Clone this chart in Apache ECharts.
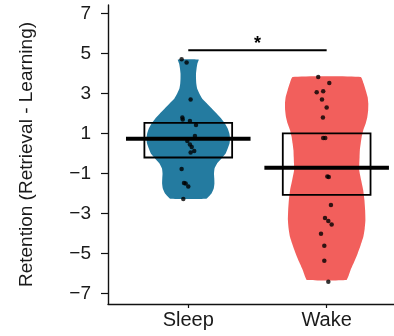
<!DOCTYPE html>
<html>
<head>
<meta charset="utf-8">
<script src="https://cdn.jsdelivr.net/npm/echarts@6/dist/echarts.min.js"></script>
<style>
html,body{margin:0;padding:0;background:#fff;}
#chart{width:394px;height:336px;}
</style>
</head>
<body>
<div id="chart"></div>
<script>
// ---- data ----
const categories = ['Sleep', 'Wake'];
const yTicks = [-7, -5, -3, -1, 1, 3, 5, 7];
const yTitle = 'Retention (Retrieval - Learning)';

const sleepValues = [4.72, 4.55, 2.7, 1.8, 1.7, 1.62, 1.42, 0.88, 0.62, 0.45, 0.33, 0.12, 0.05, -0.78, -1.47, -1.5, -1.65, -2.28];
const sleepJitter = [-0.048, -0.012, 0.017, -0.043, -0.04, 0.012, 0.056, 0.048, -0.007, 0.012, 0.025, 0.043, 0.017, -0.048, -0.031, -0.019, 0.0, -0.036];
const wakeValues = [3.83, 3.53, 3.12, 3.07, 2.7, 2.3, 1.8, 0.77, 0.77, -1.15, -1.18, -2.58, -3.23, -3.38, -3.55, -4.02, -4.62, -5.37, -6.42];
const wakeJitter = [-0.061, 0.019, -0.025, -0.072, -0.034, 0.0, -0.027, -0.025, -0.01, 0.005, 0.015, 0.031, -0.012, 0.012, 0.036, -0.041, -0.017, -0.017, 0.012];

const means = [0.74, -0.71];
const ciLow = [-0.2, -2.07];
const ciHigh = [1.53, 1.01];

// violin density profiles: y level and half width (x units)
const sleepViolinY = [4.7, 4.5, 4.25, 4.0, 3.75, 3.5, 3.25, 3.0, 2.75, 2.5, 2.25, 2.0, 1.75, 1.5, 1.25, 1.0, 0.75, 0.5, 0.25, 0.0, -0.25, -0.5, -0.75, -1.0, -1.25, -1.5, -1.75, -2.0, -2.15, -2.27];
const sleepViolinHalf = [0.075, 0.066, 0.06, 0.056, 0.056, 0.058, 0.064, 0.08, 0.1, 0.135, 0.17, 0.205, 0.238, 0.265, 0.285, 0.297, 0.302, 0.298, 0.285, 0.27, 0.24, 0.208, 0.19, 0.186, 0.188, 0.189, 0.184, 0.168, 0.148, 0.13];
const wakeViolinY = [3.83, 3.5, 3.17, 2.83, 2.5, 2.17, 1.83, 1.5, 1.17, 0.83, 0.5, 0.17, -0.17, -0.5, -0.83, -1.33, -1.83, -2.33, -2.83, -3.33, -3.75, -4.17, -4.58, -5.0, -5.42, -5.83, -6.1, -6.33];
const wakeViolinHalf = [0.246, 0.267, 0.282, 0.296, 0.301, 0.3, 0.294, 0.282, 0.265, 0.253, 0.246, 0.24, 0.238, 0.236, 0.235, 0.249, 0.264, 0.273, 0.278, 0.28, 0.275, 0.265, 0.246, 0.224, 0.199, 0.173, 0.159, 0.142];

const sigFrom = 1, sigTo = 2, sigY = 5.17, sigLabel = '*';

// ---- style ----
const colors = ['#247BA0', '#F25F5C'];
const font = 'Liberation Sans, Arial, Helvetica, sans-serif';
const textColor = '#1a1a1a';
const boxHalf = 0.317, meanHalf = 0.45;

const violinProfiles = [
  {y: sleepViolinY, h: sleepViolinHalf},
  {y: wakeViolinY, h: wakeViolinHalf}
];

const pointData = [];
sleepValues.forEach((v, i) => pointData.push([1 + sleepJitter[i], v]));
wakeValues.forEach((v, i) => pointData.push([2 + wakeJitter[i], v]));

const chart = echarts.init(document.getElementById('chart'), null, {renderer: 'canvas'});

const option = {
  animation: false,
  backgroundColor: '#ffffff',
  grid: {left: 108, top: 5, width: 301.7, height: 299, containLabel: false, outerBoundsMode: 'none'},
  xAxis: {
    type: 'value', min: 0.42, max: 2.6,
    splitLine: {show: false},
    axisLine: {show: true, onZero: false, lineStyle: {color: '#111', width: 1.4}},
    axisTick: {show: true, customValues: [1, 2], length: 4, lineStyle: {color: '#111', width: 1.2}},
    axisLabel: {
      customValues: [1, 2], margin: 6,
      formatter: v => categories[Math.round(v) - 1] || '',
      fontFamily: font, fontSize: 20, color: textColor
    }
  },
  yAxis: {
    type: 'value', min: -7.53, max: 7.43,
    name: yTitle, nameLocation: 'middle', nameGap: 72,
    nameTextStyle: {fontFamily: font, fontSize: 19, color: textColor},
    splitLine: {show: false},
    axisLine: {show: true, onZero: false, lineStyle: {color: '#111', width: 1.4}},
    axisTick: {show: true, customValues: yTicks, length: 7, lineStyle: {color: '#111', width: 1.2}},
    axisLabel: {
      customValues: yTicks, margin: 17,
      formatter: v => (v < 0 ? '\u2212' + Math.abs(v) : String(v)),
      fontFamily: font, fontSize: 19, color: textColor
    }
  },
  series: [
    {
      type: 'custom', name: 'violin', z: 1,
      data: [[0], [1]],
      renderItem: function (params, api) {
        const idx = api.value(0);
        const p = violinProfiles[idx];
        const pts = [];
        for (let i = 0; i < p.y.length; i++) pts.push(api.coord([idx + 1 + p.h[i], p.y[i]]));
        for (let i = p.y.length - 1; i >= 0; i--) pts.push(api.coord([idx + 1 - p.h[i], p.y[i]]));
        return {type: 'polygon', shape: {points: pts, smooth: 0.15}, style: {fill: colors[idx], stroke: null}};
      }
    },
    {
      type: 'scatter', name: 'points', z: 2,
      data: pointData, symbol: 'circle', symbolSize: 4.5,
      itemStyle: {color: '#000'}
    },
    {
      type: 'custom', name: 'summary', z: 3,
      data: [[0, means[0], ciLow[0], ciHigh[0]], [1, means[1], ciLow[1], ciHigh[1]]],
      renderItem: function (params, api) {
        const idx = api.value(0);
        const c = idx + 1;
        const tl = api.coord([c - boxHalf, api.value(3)]);
        const br = api.coord([c + boxHalf, api.value(2)]);
        const ml = api.coord([c - meanHalf, api.value(1)]);
        const mr = api.coord([c + meanHalf, api.value(1)]);
        return {
          type: 'group',
          children: [
            {type: 'rect', shape: {x: tl[0], y: tl[1], width: br[0] - tl[0], height: br[1] - tl[1]},
             style: {fill: 'none', stroke: '#000', lineWidth: 1.8}},
            {type: 'line', shape: {x1: ml[0], y1: ml[1], x2: mr[0], y2: mr[1]},
             style: {stroke: '#000', lineWidth: 4}}
          ]
        };
      }
    },
    {
      type: 'custom', name: 'significance', z: 4,
      data: [[sigFrom, sigTo, sigY]],
      renderItem: function (params, api) {
        const a = api.coord([api.value(0), api.value(2)]);
        const b = api.coord([api.value(1), api.value(2)]);
        return {
          type: 'group',
          children: [
            {type: 'line', shape: {x1: a[0], y1: a[1], x2: b[0], y2: b[1]}, style: {stroke: '#000', lineWidth: 2}},
            {type: 'text', x: (a[0] + b[0]) / 2, y: a[1] + 3,
             style: {text: sigLabel, fontFamily: font, fontSize: 18, fontWeight: 'bold', fill: '#000', align: 'center', verticalAlign: 'bottom'}}
          ]
        };
      }
    }
  ]
};
chart.setOption(option);
</script>
</body>
</html>
